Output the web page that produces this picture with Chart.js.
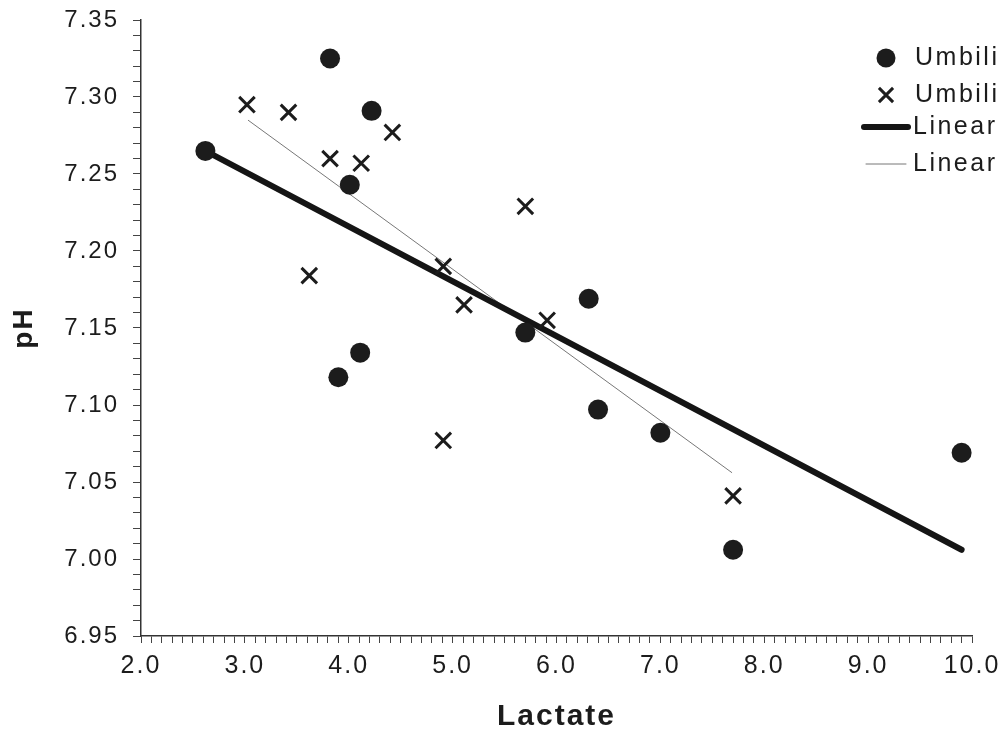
<!DOCTYPE html>
<html><head><meta charset="utf-8">
<script src="https://cdn.jsdelivr.net/npm/chart.js@4.4.1/dist/chart.umd.min.js"></script>
<style>html,body{margin:0;padding:0;background:#fff}#wrap{width:999px;height:735px}</style>
</head><body><div id="wrap"><canvas id="c" width="999" height="735"></canvas></div>
<script>
// Series 1 (filled circles)
const arteryLactate = [2.62, 3.82, 4.22, 4.01, 4.11, 3.90, 5.70, 6.31, 6.40, 7.00, 7.70, 9.90];
const arteryPH      = [7.265, 7.325, 7.291, 7.243, 7.134, 7.118, 7.147, 7.169, 7.097, 7.082, 7.006, 7.069];
// Series 2 (crosses)
const veinLactate = [3.02, 3.42, 3.82, 4.12, 4.42, 3.62, 4.91, 5.11, 5.70, 5.91, 4.91, 7.70];
const veinPH      = [7.295, 7.290, 7.260, 7.257, 7.277, 7.184, 7.190, 7.165, 7.229, 7.155, 7.077, 7.041];
// Linear trend lines (end points)
const arteryFitLactate = [2.62, 9.90];
const arteryFitPH      = [7.265, 7.006];
const veinFitLactate   = [3.03, 7.69];
const veinFitPH        = [7.285, 7.056];
const seriesLabels = ['Umbilical artery', 'Umbilical vein', 'Linear (Umbilical artery)', 'Linear (Umbilical vein)'];
const xAxisTitle = 'Lactate';
const yAxisTitle = 'pH';

const pts = (xs, ys) => xs.map((x, i) => ({x: x, y: ys[i]}));
const FONT = "'Liberation Sans', Arial, sans-serif";
const INK = '#1c1c1c';

const spacing = {
  id: 'spacing',
  beforeDraw(chart) { chart.ctx.letterSpacing = '2px'; }
};

const legendPlugin = {
  id: 'customLegend',
  afterDraw(chart) {
    const ctx = chart.ctx;
    const metas = chart.data.datasets;
    const rows = [58, 95, 127, 164];
    ctx.save();
    ctx.letterSpacing = '2.5px';
    ctx.font = '25px ' + FONT;
    ctx.textBaseline = 'middle';
    ctx.textAlign = 'left';
    metas.forEach((ds, i) => {
      const y = rows[i];
      if (i === 0) {
        ctx.fillStyle = INK; ctx.beginPath(); ctx.arc(886, y, 9.5, 0, Math.PI * 2); ctx.fill();
      } else if (i === 1) {
        ctx.strokeStyle = INK; ctx.fillStyle = INK; ctx.lineWidth = 3;
        Chart.helpers.drawPoint(ctx, {pointStyle: 'crossRot', radius: 10, borderWidth: 3}, 886, y);
      } else {
        ctx.strokeStyle = ds.borderColor; ctx.lineWidth = ds.borderWidth;
        ctx.lineCap = 'round';
        ctx.beginPath(); ctx.moveTo(i === 2 ? 864 : 866, y); ctx.lineTo(i === 2 ? 908 : 906, y); ctx.stroke();
      }
      ctx.fillStyle = INK;
      ctx.fillText(ds.label, i < 2 ? 915 : 913, y);
    });
    ctx.restore();
  }
};

new Chart(document.getElementById('c'), {
  type: 'scatter',
  data: {
    datasets: [
      {label: seriesLabels[0], data: pts(arteryLactate, arteryPH), pointStyle: 'circle', pointRadius: 10,
       backgroundColor: INK, borderColor: INK, borderWidth: 0, pointHoverRadius: 10},
      {label: seriesLabels[1], data: pts(veinLactate, veinPH), pointStyle: 'crossRot', pointRadius: 11,
       backgroundColor: INK, borderColor: INK, borderWidth: 3, pointHoverRadius: 11},
      {label: seriesLabels[2], type: 'line', data: pts(arteryFitLactate, arteryFitPH), showLine: true,
       borderColor: '#151515', borderWidth: 6, pointRadius: 0, borderCapStyle: 'round', fill: false},
      {label: seriesLabels[3], type: 'line', data: pts(veinFitLactate, veinFitPH), showLine: true,
       borderColor: '#777', borderWidth: 1, pointRadius: 0, fill: false}
    ]
  },
  options: {
    responsive: false,
    devicePixelRatio: 1,
    animation: false,
    layout: {padding: {left: 0, right: 27, top: 20, bottom: 0}},
    plugins: {legend: {display: false}, tooltip: {enabled: false}},
    scales: {
      x: {
        type: 'linear', min: 2, max: 10,
        afterFit(s) { s.height = 99; s.paddingLeft = 0; s.paddingRight = 0; },
        ticks: {
          stepSize: 0.1, autoSkip: false, maxRotation: 0, minRotation: 0, padding: 8,
          color: INK, font: {family: FONT, size: 25},
          callback: v => (Math.abs(v * 10 - Math.round(v) * 10) < 1e-6) ? Number(v).toFixed(1) : ''
        },
        grid: {drawOnChartArea: false, drawTicks: true, tickLength: 7, color: '#444', lineWidth: 1},
        border: {display: true, color: '#333', width: 1.5},
        title: {display: true, text: xAxisTitle, color: INK, font: {family: FONT, size: 30, weight: 'bold'},
                padding: {top: 0, bottom: 0}}
      },
      y: {
        type: 'linear', min: 6.95, max: 7.35,
        afterFit(s) { s.width = 141; s.paddingTop = 0; s.paddingBottom = 0; },
        ticks: {
          stepSize: 0.01, autoSkip: false, padding: 14,
          color: INK, font: {family: FONT, size: 24},
          callback: v => (Math.round(v * 100) % 5 === 0) ? Number(v).toFixed(2) : ''
        },
        grid: {drawOnChartArea: false, drawTicks: true, tickLength: 8, color: '#444', lineWidth: 1},
        border: {display: true, color: '#333', width: 1.5},
        title: {display: true, text: yAxisTitle, color: INK, font: {family: FONT, size: 28, weight: 'bold'},
                padding: {top: 7, bottom: 0}}
      }
    }
  },
  plugins: [spacing, legendPlugin]
});
</script>
</body></html>
